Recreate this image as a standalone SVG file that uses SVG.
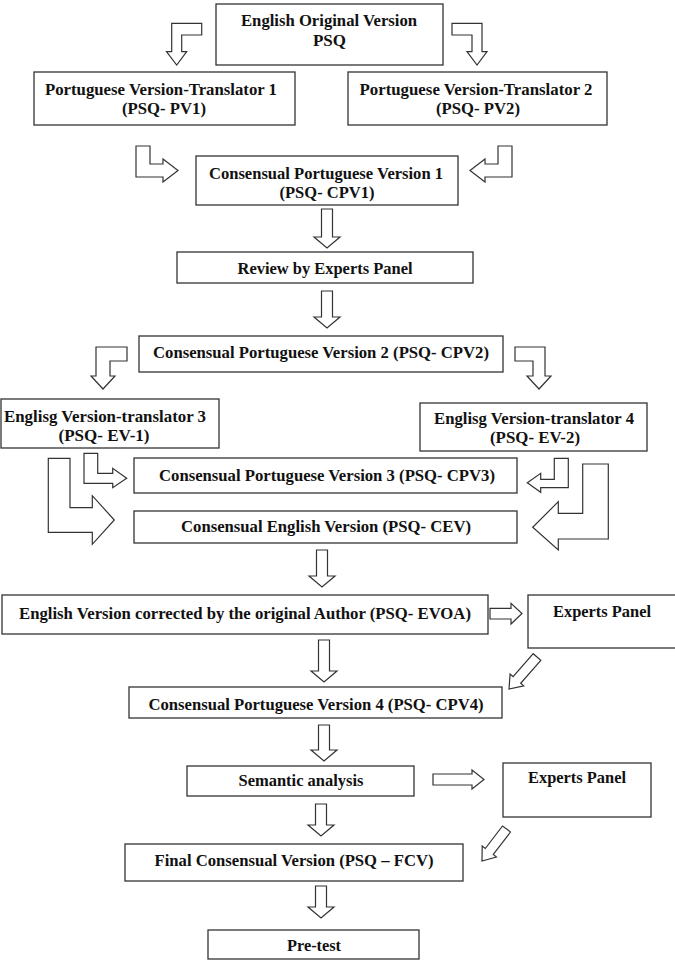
<svg xmlns="http://www.w3.org/2000/svg" width="675" height="973" viewBox="0 0 675 973">
<style>
.box{fill:#fff;stroke:#333;stroke-width:1.3}
.arr{fill:#fff;stroke:#333;stroke-width:1.2;stroke-linejoin:miter}
.t{font-family:"Liberation Serif","Times New Roman",serif;font-weight:bold;font-size:17px;fill:#111;text-anchor:middle}
</style>
<rect width="675" height="973" fill="#fff"/>
<g id="connectors">
<polygon class="arr" points="171.7,23.3 201.7,23.3 201.7,35 181.7,35 181.7,51.7 186.7,51.7 176.7,65 166.5,51.7 171.7,51.7"/>
<polygon class="arr" points="452,23.3 482,23.3 482,51.7 487,51.7 477,65 467,51.7 472,51.7 472,35 452,35"/>
<polygon class="arr" points="136,146 150,146 150,164 163,164 163,159 178,170.5 163,182 163,177 136,177"/>
<polygon class="arr" points="498,146 512,146 512,177 485,177 485,182 470,170.5 485,159 485,164 498,164"/>
<polygon class="arr" points="321.5,209 332.5,209 332.5,237 340,237 327,248 314,237 321.5,237"/>
<polygon class="arr" points="321.5,291 332.5,291 332.5,317 340,317 327,328 314,317 321.5,317"/>
<polygon class="arr" points="96,347 127,347 127,361 110,361 110,376 115,376 103,389 91,376 96,376"/>
<polygon class="arr" points="515,347 545,347 545,376 551,376 539,389 527,376 533,376 533,361 515,361"/>
<polygon class="arr" points="84,453.3 97.7,453.3 97.7,473.3 112.7,473.3 112.7,468.3 126.7,478.3 112.7,487.7 112.7,483.3 84,483.3"/>
<polygon class="arr" points="48.3,458.3 70,458.3 70,507.7 92.3,507.7 92.3,495.7 114.3,520 92.3,544.3 92.3,532.3 48.3,532.3"/>
<polygon class="arr" points="554.3,458.3 568.3,458.3 568.3,487.7 540.7,487.7 540.7,492.3 527.3,482.7 540.7,473.3 540.7,479.3 554.3,479.3"/>
<polygon class="arr" points="582.7,464 608.3,464 608.3,539 558.3,539 558.3,550 532.7,527.3 558.3,501.7 558.3,513.3 582.7,513.3"/>
<polygon class="arr" points="316.5,550 327.5,550 327.5,576 335,576 322,587 309,576 316.5,576"/>
<polygon class="arr" points="490,608.3 511,608.3 511,603.3 522,613.5 511,624 511,619 490,619"/>
<polygon class="arr" points="318.5,640 329.5,640 329.5,671 337,671 324,682 311,671 318.5,671"/>
<polygon class="arr" points="540.8,660.3 520.7,683.3 523.7,685.9 509,689 510.1,674.1 513.1,676.7 533.2,653.7"/>
<polygon class="arr" points="318.5,725 329.5,725 329.5,750 337,750 324,761 311,750 318.5,750"/>
<polygon class="arr" points="433,774 472,774 472,770 484,779.5 472,789 472,785 433,785"/>
<polygon class="arr" points="315.5,804 326.5,804 326.5,825 334,825 321,836 308,825 315.5,825"/>
<polygon class="arr" points="510.5,832 493.3,854.5 496.4,857 482,861 482.2,846 485.3,848.5 502.5,826"/>
<polygon class="arr" points="315.5,886 326.5,886 326.5,907 334,907 321,918 308,907 315.5,907"/>
</g>
<g id="n-original"><rect class="box" x="216" y="4" width="227" height="61"/>
<text class="t" x="329" y="26" textLength="176" lengthAdjust="spacingAndGlyphs">English Original Version</text>
<text class="t" x="329.5" y="46">PSQ</text></g>
<g id="n-pv1"><rect class="box" x="34" y="72" width="261" height="53"/>
<text class="t" x="161" y="95" textLength="232" lengthAdjust="spacingAndGlyphs">Portuguese Version-Translator 1</text>
<text class="t" x="164" y="114" textLength="84" lengthAdjust="spacingAndGlyphs">(PSQ- PV1)</text></g>
<g id="n-pv2"><rect class="box" x="348" y="72" width="259" height="53"/>
<text class="t" x="476" y="95" textLength="233" lengthAdjust="spacingAndGlyphs">Portuguese Version-Translator 2</text>
<text class="t" x="478" y="114" textLength="84" lengthAdjust="spacingAndGlyphs">(PSQ- PV2)</text></g>
<g id="n-cpv1"><rect class="box" x="196" y="156" width="262" height="49"/>
<text class="t" x="326" y="179" textLength="234" lengthAdjust="spacingAndGlyphs">Consensual Portuguese Version 1</text>
<text class="t" x="327" y="198" textLength="95" lengthAdjust="spacingAndGlyphs">(PSQ- CPV1)</text></g>
<g id="n-review"><rect class="box" x="177" y="252" width="296" height="31"/>
<text class="t" x="325" y="274" textLength="175" lengthAdjust="spacingAndGlyphs">Review by Experts Panel</text></g>
<g id="n-cpv2"><rect class="box" x="139" y="336" width="364" height="36"/>
<text class="t" x="321" y="358" textLength="336" lengthAdjust="spacingAndGlyphs">Consensual Portuguese Version 2 (PSQ- CPV2)</text></g>
<g id="n-ev1"><rect class="box" x="1" y="399" width="218" height="49"/>
<text class="t" x="105" y="422" textLength="202" lengthAdjust="spacingAndGlyphs">Englisg Version-translator 3</text>
<text class="t" x="104" y="441" textLength="91" lengthAdjust="spacingAndGlyphs">(PSQ- EV-1)</text></g>
<g id="n-ev2"><rect class="box" x="420" y="403" width="227" height="48"/>
<text class="t" x="534" y="424" textLength="200" lengthAdjust="spacingAndGlyphs">Englisg Version-translator 4</text>
<text class="t" x="535" y="443" textLength="90" lengthAdjust="spacingAndGlyphs">(PSQ- EV-2)</text></g>
<g id="n-cpv3"><rect class="box" x="134" y="458" width="383" height="35"/>
<text class="t" x="327" y="481" textLength="336" lengthAdjust="spacingAndGlyphs">Consensual Portuguese Version 3 (PSQ- CPV3)</text></g>
<g id="n-cev"><rect class="box" x="134" y="511" width="383" height="32"/>
<text class="t" x="326" y="532" textLength="290" lengthAdjust="spacingAndGlyphs">Consensual English Version (PSQ- CEV)</text></g>
<g id="n-evoa"><rect class="box" x="2" y="595" width="486" height="39"/>
<text class="t" x="245" y="619" textLength="452" lengthAdjust="spacingAndGlyphs">English Version corrected by the original Author (PSQ- EVOA)</text></g>
<g id="n-experts1"><rect class="box" x="528" y="595" width="150" height="53"/>
<text class="t" x="602" y="617" textLength="98" lengthAdjust="spacingAndGlyphs">Experts Panel</text></g>
<g id="n-cpv4"><rect class="box" x="129" y="687" width="373" height="31"/>
<text class="t" x="316" y="710" textLength="335" lengthAdjust="spacingAndGlyphs">Consensual Portuguese Version 4 (PSQ- CPV4)</text></g>
<g id="n-semantic"><rect class="box" x="187" y="766" width="227" height="30"/>
<text class="t" x="301" y="786" textLength="125" lengthAdjust="spacingAndGlyphs">Semantic analysis</text></g>
<g id="n-experts2"><rect class="box" x="503" y="763" width="148" height="54"/>
<text class="t" x="577" y="783" textLength="98" lengthAdjust="spacingAndGlyphs">Experts Panel</text></g>
<g id="n-fcv"><rect class="box" x="125" y="844" width="338" height="37"/>
<text class="t" x="294" y="866" textLength="279" lengthAdjust="spacingAndGlyphs">Final Consensual Version (PSQ – FCV)</text></g>
<g id="n-pretest"><rect class="box" x="208" y="930" width="211" height="29"/>
<text class="t" x="314" y="951" textLength="54" lengthAdjust="spacingAndGlyphs">Pre-test</text></g>
</svg>
